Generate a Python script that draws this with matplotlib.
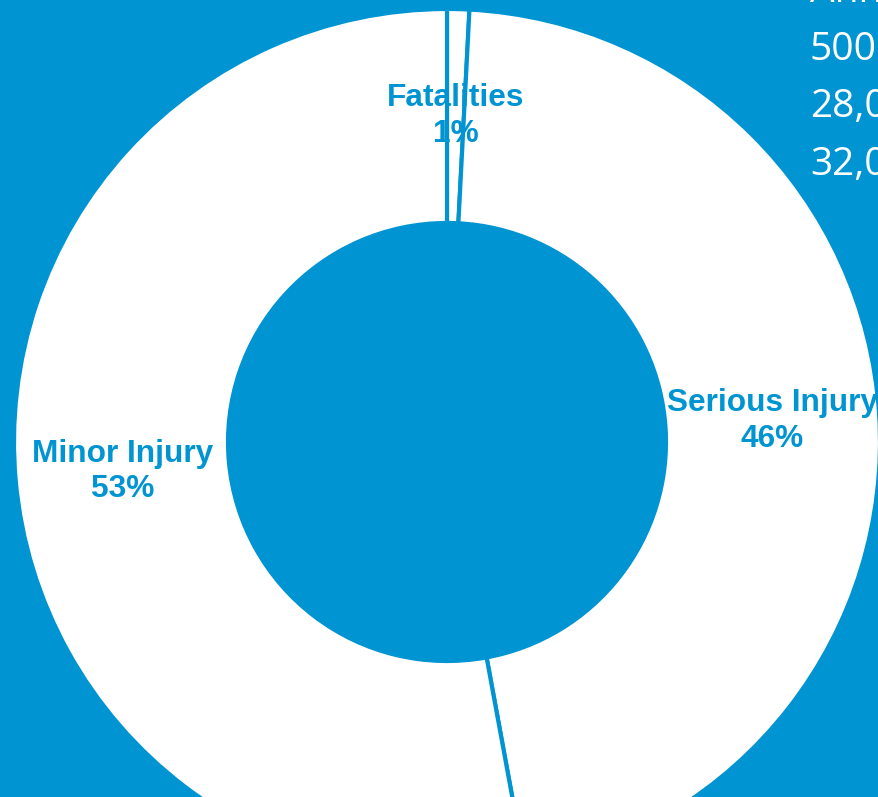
import matplotlib.pyplot as plt

labels = ['Fatalities', 'Serious Injury', 'Minor Injury']
counts = [500, 28000, 32000]
side_title = 'Annual'

blue = '#0094d2'

fig = plt.figure(figsize=(8.79, 7.97), dpi=100, facecolor=blue)
ax = fig.add_axes([0, 0, 1, 1])
ax.set_facecolor(blue)

# donut centred at pixel (447, 442), outer r 433, inner r 219
wedges, texts, autotexts = ax.pie(
    counts, colors=['white'] * 3, startangle=90, counterclock=False,
    radius=433, center=(447, 797 - 442), autopct='%1.0f%%', pctdistance=0.753,
    wedgeprops=dict(width=433 - 219, edgecolor=blue, linewidth=3),
    textprops=dict(color=blue, fontsize=22.8, fontweight='bold', family='Liberation Sans'),
    frame=True)
for t, name in zip(autotexts, labels):
    t.set_text(name + '\n' + t.get_text())
    t.set_linespacing(1.25)
ax.set_xlim(0, 879)
ax.set_ylim(0, 797)
ax.set_aspect('equal')
ax.axis('off')

# white figures text at top right (cropped in the original)
side = [side_title] + [f'{c:,}' for c in counts]
for i, s in enumerate(side):
    fig.text(810 / 879, 1 - (2 + i * 57.5) / 797, s, color='white', fontsize=28,
             family='Open Sans', ha='left', va='baseline')

plt.savefig('out.png', dpi=100, facecolor=blue)
